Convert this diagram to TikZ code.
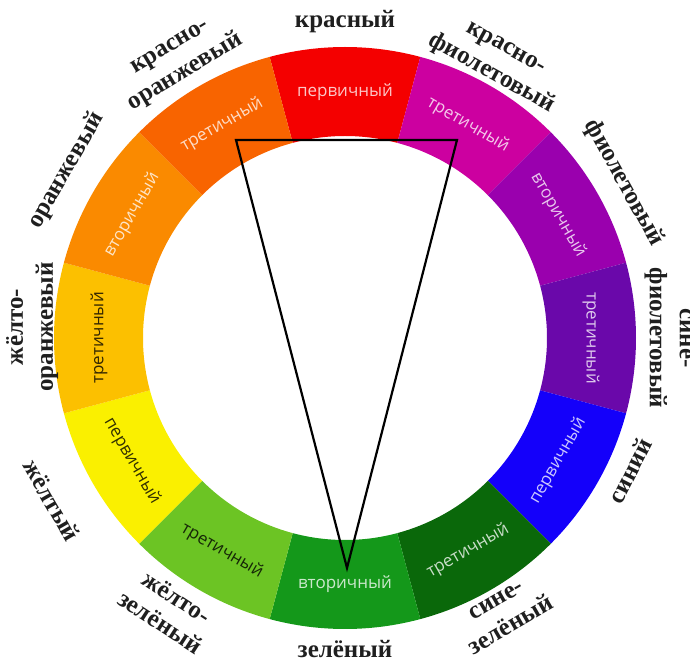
\documentclass[tikz,border=0pt]{standalone}
\usepackage{fontspec}
\setmainfont{Liberation Serif}
\setsansfont{Open Sans}
\definecolor{cRed}{HTML}{F40000}
\definecolor{cRedViolet}{HTML}{CC00A0}
\definecolor{cViolet}{HTML}{9A00AE}
\definecolor{cBlueViolet}{HTML}{6A08AA}
\definecolor{cBlue}{HTML}{1400FA}
\definecolor{cBlueGreen}{HTML}{0A680A}
\definecolor{cGreen}{HTML}{14981A}
\definecolor{cYellowGreen}{HTML}{6CC424}
\definecolor{cYellow}{HTML}{FAF000}
\definecolor{cYellowOrange}{HTML}{FCC000}
\definecolor{cOrange}{HTML}{FA8A00}
\definecolor{cRedOrange}{HTML}{F86400}
\begin{document}
\begin{tikzpicture}
	[	x=1pt,y=1pt,
	part/.style={font=\sffamily\fontsize{17}{17}\selectfont,inner sep=0pt},
	lite/.style={part,text=white,text opacity=.78},
	dark/.style={part,text=black,text opacity=.8},
	hue/.style={font=\bfseries\fontsize{25}{30}\selectfont,align=center,inner sep=0pt,text=black!88}
	]
	\useasboundingbox (-345,-322) rectangle (345,338);
	\fill[cRed] (75:291) arc[start angle=75,end angle=105,radius=291] -- (105:202) arc[start angle=105,end angle=75,radius=202] -- cycle;
	\fill[cRedViolet] (45:291) arc[start angle=45,end angle=75,radius=291] -- (75:202) arc[start angle=75,end angle=45,radius=202] -- cycle;
	\fill[cViolet] (15:291) arc[start angle=15,end angle=45,radius=291] -- (45:202) arc[start angle=45,end angle=15,radius=202] -- cycle;
	\fill[cBlueViolet] (-15:291) arc[start angle=-15,end angle=15,radius=291] -- (15:202) arc[start angle=15,end angle=-15,radius=202] -- cycle;
	\fill[cBlue] (-45:291) arc[start angle=-45,end angle=-15,radius=291] -- (-15:202) arc[start angle=-15,end angle=-45,radius=202] -- cycle;
	\fill[cBlueGreen] (-75:291) arc[start angle=-75,end angle=-45,radius=291] -- (-45:202) arc[start angle=-45,end angle=-75,radius=202] -- cycle;
	\fill[cGreen] (-105:291) arc[start angle=-105,end angle=-75,radius=291] -- (-75:202) arc[start angle=-75,end angle=-105,radius=202] -- cycle;
	\fill[cYellowGreen] (-135:291) arc[start angle=-135,end angle=-105,radius=291] -- (-105:202) arc[start angle=-105,end angle=-135,radius=202] -- cycle;
	\fill[cYellow] (-165:291) arc[start angle=-165,end angle=-135,radius=291] -- (-135:202) arc[start angle=-135,end angle=-165,radius=202] -- cycle;
	\fill[cYellowOrange] (165:291) arc[start angle=165,end angle=195,radius=291] -- (195:202) arc[start angle=195,end angle=165,radius=202] -- cycle;
	\fill[cOrange] (135:291) arc[start angle=135,end angle=165,radius=291] -- (165:202) arc[start angle=165,end angle=135,radius=202] -- cycle;
	\fill[cRedOrange] (105:291) arc[start angle=105,end angle=135,radius=291] -- (135:202) arc[start angle=135,end angle=105,radius=202] -- cycle;

	\node[lite] (pRed) at (90:246){первичный};
	\node[lite,rotate=-30] (pRedViolet) at (60:246){третичный};
	\node[lite,rotate=-60] (pViolet) at (30:246){вторичный};
	\node[lite,rotate=-90] (pBlueViolet) at (0:246){третичный};
	\node[lite,rotate=60] (pBlue) at (-30:246){первичный};
	\node[lite,rotate=30] (pBlueGreen) at (-60:246){третичный};
	\node[lite] (pGreen) at (-90:246){вторичный};
	\node[dark,rotate=-30] (pYellowGreen) at (-120:246){третичный};
	\node[dark,rotate=-60] (pYellow) at (-150:246){первичный};
	\node[dark,rotate=90] (pYellowOrange) at (180:246){третичный};
	\node[lite,rotate=60] (pOrange) at (150:246){вторичный};
	\node[lite,rotate=30] (pRedOrange) at (120:246){третичный};

\node[hue] (hRed) at (90:316){красный};
\node[hue,rotate=-29] (hRedViolet) at (61:315){красно-\\фиолетовый};
\node[hue,rotate=-61] (hViolet) at (29:319){фиолетовый};
\node[hue,rotate=-90] (hBlueViolet) at (0:323){сине-\\фиолетовый};
\node[hue,rotate=63] (hBlue) at (-25:314){синий};
\node[hue,rotate=30] (hBlueGreen) at (-60:318){сине-\\зелёный};
\node[hue] (hGreen) at (-90:311){зелёный};
\node[hue,rotate=-33] (hYellowGreen) at (-123:324){жёлто-\\зелёный};
\node[hue,rotate=-60] (hYellow) at (-151:335){жёлтый};
\node[hue,rotate=90] (hYellowOrange) at (178:313){жёлто-\\оранжевый};
\node[hue,rotate=60] (hOrange) at (149:325){оранжевый};
\node[hue,rotate=31] (hRedOrange) at (121:323){красно-\\оранжевый};

	\coordinate (tL) at (-109,198);
	\coordinate (tR) at (112,198);
	\coordinate (tB) at (2,-230);
	\draw[line width=2.2pt] (tL) -- (tR) -- (tB) -- cycle;
\end{tikzpicture}
\end{document}
